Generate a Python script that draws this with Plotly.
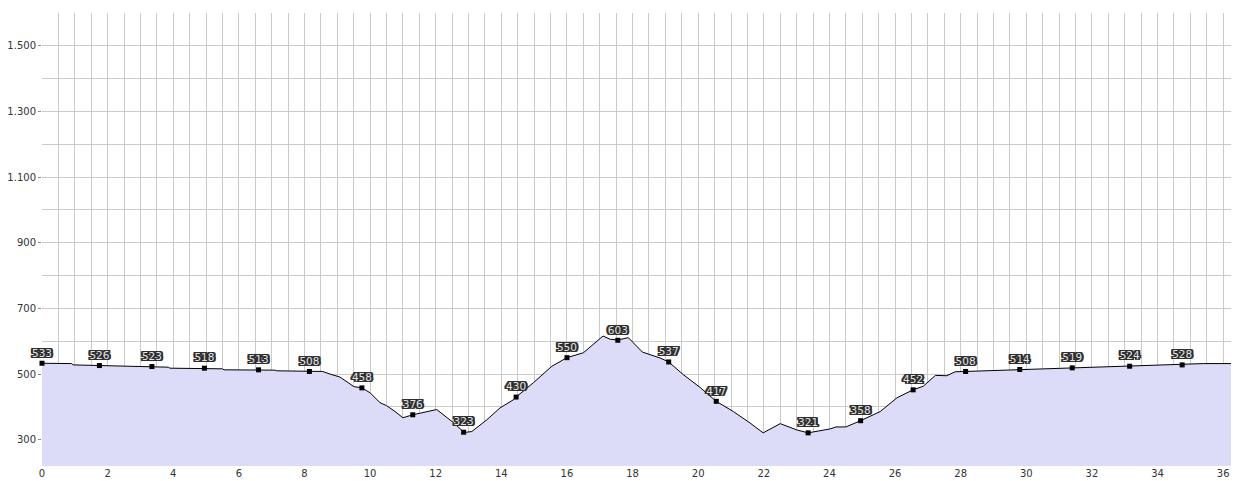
import plotly.graph_objects as go

# Elevation profile (distance in km, elevation in m)
profile_km = [0, 0.9, 0.95, 1.75, 3.0, 3.05, 3.35, 3.85, 3.9, 4.95, 5.5, 5.55, 6.6, 7.1, 7.15,
              8.15, 8.55, 8.78, 9.08, 9.33, 9.5, 9.75, 10.0, 10.3, 10.5, 10.76, 11.0, 11.3, 11.6,
              12.03, 12.54, 12.87, 13.1, 13.56, 13.96, 14.37, 14.45, 14.98, 15.54, 16.0, 16.5,
              17.1, 17.32, 17.55, 17.87, 18.3, 18.84, 19.1, 19.55, 20.06, 20.55, 21.07, 21.58,
              21.98, 22.5, 23.0, 23.35, 24.02, 24.2, 24.5, 24.95, 25.55, 26.06, 26.55, 26.86,
              27.23, 27.58, 27.83, 28.15, 29.8, 30.73, 31.4, 32.46, 33.15, 33.78, 34.75, 35.4, 36.33]
profile_elev = [533, 532, 528, 526, 525, 523, 523, 521, 518, 518, 516, 513, 513, 512, 510,
                508, 508, 500, 491, 474, 462, 458, 443, 413, 404, 386, 367, 376, 383,
                392, 352, 322, 325, 361, 397, 422, 430, 474, 524, 550, 565,
                616, 606, 604, 611, 567, 549, 537, 498, 459, 417, 386, 351,
                321, 349, 330, 321, 333, 339, 339, 358, 386, 428, 452, 463,
                496, 495, 507, 508, 513, 516, 519, 521, 524, 526, 528, 532, 532]

# Labelled waypoints
mark_km = [0, 1.75, 3.35, 4.95, 6.6, 8.15, 9.75, 11.3, 12.85, 14.45, 16.0, 17.55, 19.1,
           20.55, 23.35, 24.95, 26.55, 28.15, 29.8, 31.4, 33.15, 34.75]
mark_elev = [533, 526, 523, 518, 513, 508, 458, 376, 323, 430, 550, 603, 537,
             417, 321, 358, 452, 508, 514, 519, 524, 528]

y_min, y_max = 220, 1600
x_max = profile_km[-1]

fig = go.Figure()
fig.add_trace(go.Scatter(
    x=profile_km, y=profile_elev, mode="lines", fill="tozeroy",
    line=dict(color="#000000", width=1), fillcolor="#dcdcf8",
    hoverinfo="x+y", showlegend=False))
# closing edge at the end of the track
fig.add_trace(go.Scatter(
    x=[profile_km[-1], profile_km[-1]], y=[profile_elev[-1], y_min], mode="lines",
    line=dict(color="#000000", width=1.5), showlegend=False, hoverinfo="skip"))
halo = ", ".join(f"{dx}px {dy}px 0 #2e2e2e" for dx in (-2, -1, 0, 1, 2) for dy in (-1, 0, 1))
fig.add_trace(go.Scatter(
    x=mark_km, y=mark_elev, mode="markers+text",
    text=[str(v) for v in mark_elev], textposition="top center",
    marker=dict(symbol="square", size=5, color="#000000"),
    textfont=dict(family="DejaVu Sans", size=10.5, color="#e6e6e6", shadow=halo),
    cliponaxis=False, showlegend=False))

grid = "#cacaca"
# page body has an 8px default margin: the figure is sized to fit inside it
fig.update_layout(
    width=1231, height=473,
    margin=dict(l=34, r=5, t=5, b=15, autoexpand=False),
    paper_bgcolor="#ffffff", plot_bgcolor="#ffffff",
    separators=",.",
    font=dict(family="DejaVu Sans", size=10, color="#333333"),
    xaxis=dict(range=[0, x_max], tickmode="linear", tick0=0, dtick=2,
               showgrid=True, gridcolor=grid, gridwidth=1, zeroline=False,
               ticks="", showline=False, automargin=False,
               minor=dict(dtick=0.5, tick0=0, showgrid=True, gridcolor=grid, gridwidth=1)),
    yaxis=dict(range=[y_min, y_max], tickmode="linear", tick0=300, dtick=200,
               showgrid=True, gridcolor=grid, gridwidth=1, zeroline=False,
               ticks="outside", ticklen=3, tickcolor="#888888", showline=False,
               tickformat=",d", automargin=False,
               minor=dict(dtick=100, tick0=300, showgrid=True, gridcolor=grid, gridwidth=1)),
)

fig.write_html("out.html")
